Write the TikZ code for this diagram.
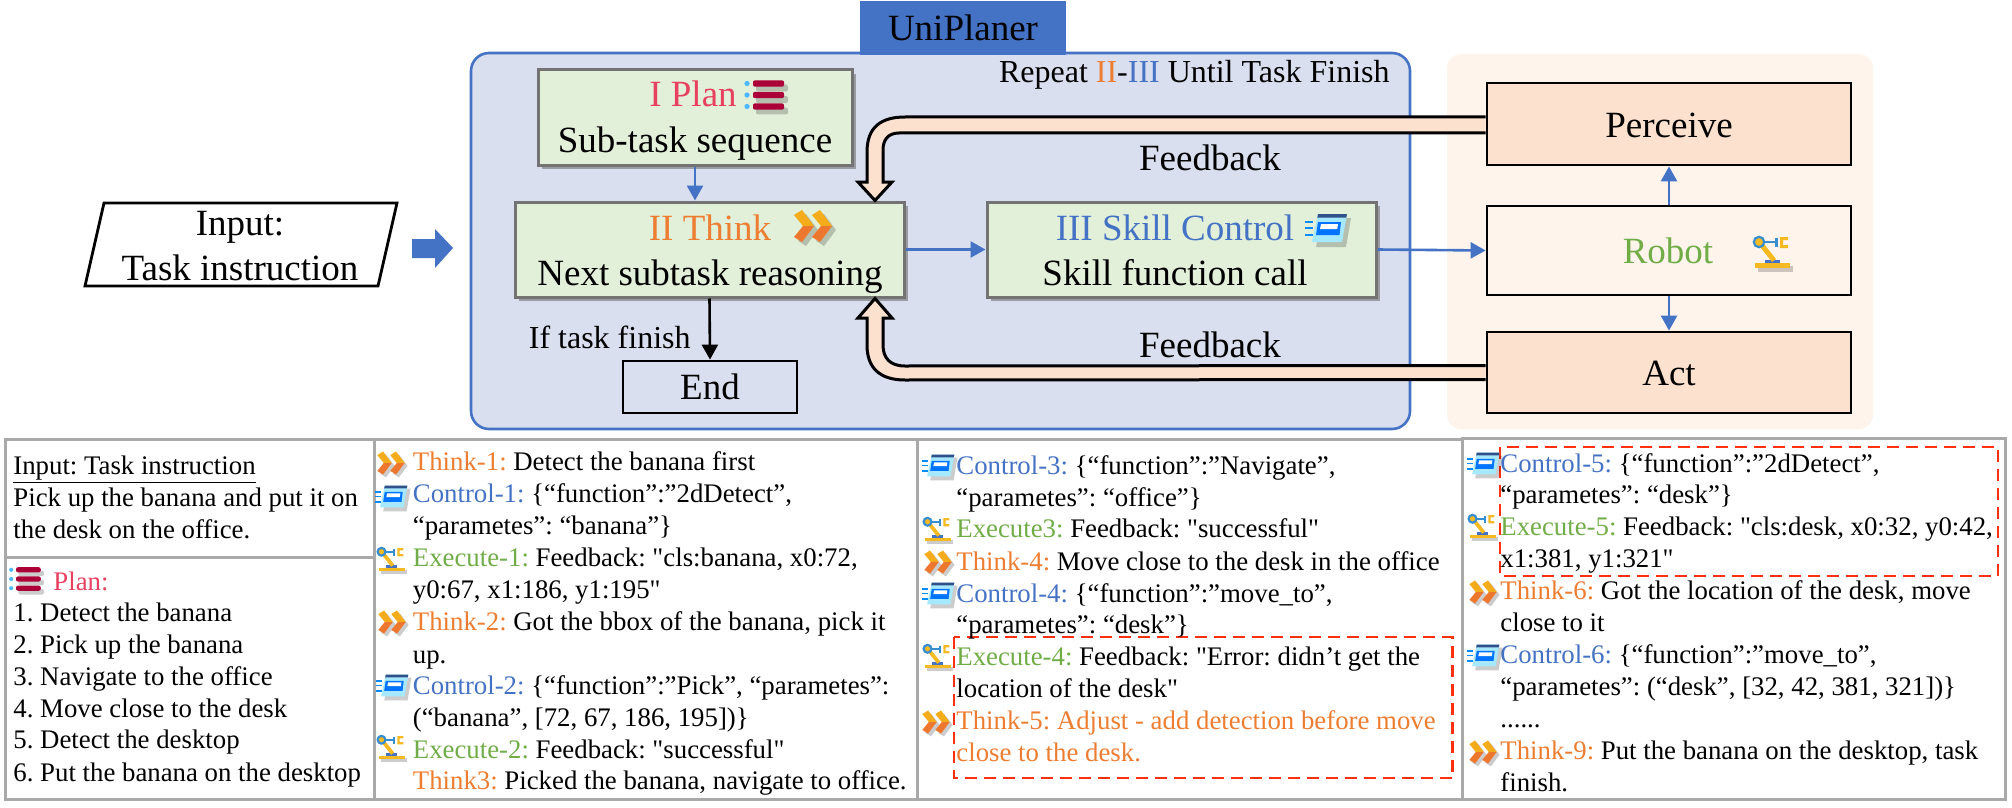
\documentclass[tikz,border=0pt]{standalone}
\usepackage{fontspec}
\setmainfont{Liberation Serif}[Ligatures=TeXOff]
\usetikzlibrary{arrows.meta,shadows}
\definecolor{thinkc}{HTML}{ED7D31}
\definecolor{ctrlc}{HTML}{4472C4}
\definecolor{execc}{HTML}{70AD47}
\definecolor{planc}{HTML}{E8405F}
\definecolor{unifill}{HTML}{D9DFEF}
\definecolor{stepfill}{HTML}{E2EFD9}
\definecolor{peach}{HTML}{FCE1CE}
\definecolor{robotfill}{HTML}{FEF4EC}
\definecolor{tablegray}{HTML}{A9A9A9}
\definecolor{redbox}{HTML}{FF3010}
\definecolor{iconyellow}{HTML}{F5B921}
\tikzset{
	bigtext/.style={font=\fontsize{18.5}{22}\selectfont, anchor=base, inner sep=0pt},
	midtext/.style={font=\fontsize{16}{20}\selectfont, anchor=base, inner sep=0pt},
	listtext/.style={font=\fontsize{13.4}{16}\selectfont, anchor=base west, inner sep=0pt},
	stepbox/.style={draw=black!55, line width=1.5pt, fill=stepfill, inner sep=0pt, drop shadow={shadow xshift=2pt, shadow yshift=-2pt, opacity=.55, fill=black!60}},
	robotbox/.style={draw=black, line width=1.4pt, fill=peach, inner sep=0pt, minimum width=182pt},
	bluearrow/.style={->, ctrlc, line width=1.3pt},
	tube/.style={draw=black, line width=1.5pt, fill=peach},
	tableline/.style={draw=tablegray, line width=1.5pt},
	errorbox/.style={draw=redbox, line width=1.2pt, dash pattern=on 6pt off 3.5pt},
	iconshadow/.style={fill=black, opacity=.2},
	planicon/.pic={
		\foreach \b in {-11.5,0,11.5} {
			\fill[iconshadow, rounded corners=1pt] (-12,\b+1) rectangle (20,\b+8);
			\fill[blue!40!cyan!70!white] (-21,\b) circle (1.3pt);
			\fill[purple!90!black, rounded corners=1pt] (-15,\b-3.2) rectangle (16,\b+3.2);
		}
	},
	thinkicon/.pic={
		\foreach \s in {0,18} {
			\fill[iconshadow] (-15+\s,-7) -- (-7+\s,-12) -- (5+\s,4) -- (-7+\s,20) -- (-15+\s,15) -- (-6+\s,4) -- cycle;
			\fill[thinkc!60!yellow!90!orange] (-19+\s,-11) -- (-11+\s,-16) -- (1+\s,0) -- (-10+\s,0) -- cycle;
			\fill[thinkc!95!red] (-10+\s,0) -- (1+\s,0) -- (-11+\s,16) -- (-19+\s,11) -- cycle;
		}
	},
	skillicon/.pic={
		\fill[iconshadow] (-4,-12) -- (25,-12) -- (20,17) -- (-10,17) -- cycle;
		\fill[blue!25!cyan!35!white] (-8,-16) -- (21,-16) -- (16,12) -- (-14,12) -- cycle;
		\fill[ctrlc!70!black] (-8,-16) -- (21,-16) -- (20.3,-12.5) -- (-8.7,-12.5) -- cycle;
		\fill[blue!55!cyan] (-8,-8) -- (15,-8) -- (13.5,5) -- (-10,5) -- cycle;
		\fill[white] (-5,-6) -- (12,-6) -- (11.3,-1) -- (-6,-1) -- cycle;
		\foreach \b in {-8,-2,5} {\fill[blue!45!cyan] (-21,\b-1.2) rectangle (-13,\b+1.2);}
	},
	roboticon/.pic={
		\fill[iconshadow] (-15,13) rectangle (20,19);
		\fill[iconyellow] (-18,10) rectangle (17,15);
		\fill[ctrlc] (-8,7.3) rectangle (7,10);
		\fill[iconyellow] (-13,-6) -- (-9,-9) -- (3,6) -- (-1,9) -- cycle;
		\draw[ctrlc!80!cyan, line width=.9pt] (-14,-11) -- (3,-11);
		\draw[ctrlc!80!cyan, line width=1.1pt, fill=iconyellow] (-14,-11) circle (2.6pt);
		\fill[ctrlc!80!cyan] (1.5,-15) rectangle (4.5,-6);
		\fill[iconyellow] (7,-16) rectangle (15,-13) (7,-8) rectangle (15,-5) (7,-16) rectangle (10,-5);
	}
}
\begin{document}
\begin{tikzpicture}[x=0.5pt, y=-0.5pt, >={Triangle[length=7.5pt, width=8pt]}]
	\frenchspacing
	\useasboundingbox (0,0) rectangle (2012,808);

	\path[draw=black, line width=1.4pt, fill=white] (104,203) -- (397,203) -- (378,286) -- (85,286) -- cycle;
	\node[bigtext] (inputa) at (240,235) {Input:};
	\node[bigtext] (inputb) at (240,280) {Task instruction};
	\fill[ctrlc] (412,239) -- (435,239) -- (435,229) -- (453,248) -- (435,268) -- (435,258) -- (412,258) -- cycle;

	\fill[robotfill, rounded corners=7pt] (1447,54) rectangle (1873,429);
	\draw[ctrlc, fill=unifill, line width=1.3pt, rounded corners=9pt] (471,53) rectangle (1410,429);
	\fill[ctrlc] (860,1) rectangle (1066,55);
	\node[bigtext] (uni) at (963,41) {UniPlaner};
	\node[midtext, anchor=base east] (repeat) at (1390,83) {Repeat \textcolor{thinkc}{II}-\textcolor{ctrlc}{III} Until Task Finish};

	\node[stepbox, minimum width=157pt, minimum height=47.5pt] (plan) at (695,117.5) {};
	\node[stepbox, minimum width=194.5pt, minimum height=47.5pt] (think) at (709.5,249.5) {};
	\node[stepbox, minimum width=194.5pt, minimum height=47.5pt] (skill) at (1181.5,249.5) {};
	\node[draw=black, line width=1.4pt, inner sep=0pt, minimum width=87pt, minimum height=26pt] (end) at (710,387) {};
	\node[bigtext] (endt) at (710,399) {End};

	\node[bigtext, planc] (plana) at (693,107) {I Plan};
	\node[bigtext] (planb) at (695,152) {Sub-task sequence};
	\node[bigtext, thinkc] (thinka) at (710,240) {II Think};
	\node[bigtext] (thinkb) at (710,285) {Next subtask reasoning};
	\node[bigtext, ctrlc] (skilla) at (1175,240) {III Skill Control};
	\node[bigtext] (skillb) at (1175,285) {Skill function call};
	\pic at (768,95) {planicon};
	\pic at (813,226) {thinkicon};
	\pic at (1326,230) {skillicon};

	\node[midtext, anchor=base east] (finish) at (691,348) {If task finish};
	\node[bigtext] (fba) at (1210,170) {Feedback};
	\node[bigtext] (fbb) at (1210,357) {Feedback};

	\node[robotbox, minimum height=41pt] (perceive) at (1669,124) {};
	\node[robotbox, fill=robotfill, minimum height=44.5pt] (robot) at (1669,250.5) {};
	\node[robotbox, minimum height=40.5pt] (act) at (1669,372.5) {};
	\node[bigtext] (perceivet) at (1669,137) {Perceive};
	\node[bigtext, execc] (robott) at (1668,263) {Robot};
	\node[bigtext] (actt) at (1669,385) {Act};
	\pic at (1773,253) {roboticon};

	\draw[bluearrow] (plan.south) -- (think.north -| plan.south);
	\draw[bluearrow] (think.east) -- (skill.west);
	\draw[->, black, line width=1.3pt] (think.south) -- (end.north);
	\draw[bluearrow] (skill.east) -- (robot.west);
	\draw[bluearrow] (robot.north) -- (perceive.south);
	\draw[bluearrow] (robot.south) -- (act.north);

	\filldraw[tube] ([yshift=3.5pt]perceive.west) -- (905,117) .. controls (880,117) and (867,128) .. (867,152) -- (867,182) -- (858,182) -- ([xshift=82.75pt]think.north) -- (892,182) -- (883,182) -- (883,150) .. controls (883,140) and (888,133) .. (899,133) -- ([yshift=-4.5pt]perceive.west);
	\filldraw[tube] ([yshift=3.5pt]act.west) -- (905,366) .. controls (890,366) and (883,358) .. (883,345) -- (883,318) -- (892,318) -- ([xshift=82.75pt]think.south) -- (858,318) -- (867,318) -- (867,345) .. controls (867,368) and (880,380) .. (905,380) -- ([yshift=-3.5pt]act.west);

	\draw[tableline] (5,439) rectangle (374,799);
	\draw[tableline] (5,557) -- (374,557);
	\draw[tableline] (374,439) rectangle (917,799);
	\draw[tableline] (917,439) rectangle (1462,799);
	\draw[tableline] (1462,438) rectangle (2005,799);
	\draw[errorbox] (954,637) rectangle (1452.5,778);
	\draw[errorbox] (1500,447) rectangle (1998,576);

	\foreach \y/\txt [count=\i] in {474/{\underline{Input: Task instruction}}, 506/{Pick up the banana and put it on}, 538/{the desk on the office.}, 621/{1. Detect the banana}, 653/{2. Pick up the banana}, 685/{3. Navigate to the office}, 717/{4. Move close to the desk}, 748/{5. Detect the desktop}, 781/{6. Put the banana on the desktop}} {
		\node[listtext] (left\i) at (13,\y) {\txt};
	}
	\node[listtext, planc] (plantitle) at (53,590) {Plan:};

	\foreach \y/\txt [count=\i] in {470/{\textcolor{thinkc}{Think-1:} Detect the banana first}, 502/{\textcolor{ctrlc}{Control-1:} \{“function”:”2dDetect”,}, 534/{“parametes”: “banana”\}}, 566/{\textcolor{execc}{Execute-1:} Feedback: "cls:banana, x0:72,}, 598/{y0:67, x1:186, y1:195"}, 630/{\textcolor{thinkc}{Think-2:} Got the bbox of the banana, pick it}, 663/{up.}, 694/{\textcolor{ctrlc}{Control-2:} \{“function”:”Pick”, “parametes”:}, 726/{(“banana”, [72, 67, 186, 195])\}}, 758/{\textcolor{execc}{Execute-2:} Feedback: "successful"}, 789/{\textcolor{thinkc}{Think3:} Picked the banana, navigate to office.}} {
		\node[listtext] (colb\i) at (412.5,\y) {\txt};
	}

	\foreach \y/\txt [count=\i] in {474/{\textcolor{ctrlc}{Control-3:} \{“function”:”Navigate”,}, 506/{“parametes”: “office”\}}, 537/{\textcolor{execc}{Execute3:} Feedback: "successful"}, 570/{\textcolor{thinkc}{Think-4:} Move close to the desk in the office}, 602/{\textcolor{ctrlc}{Control-4:} \{“function”:”move\_to”,}, 633/{“parametes”: “desk”\}}, 665/{\textcolor{execc}{Execute-4:} Feedback: "Error: didn’t get the}, 697/{location of the desk"}, 729/{\textcolor{thinkc}{Think-5: Adjust - add detection before move}}, 761/{\textcolor{thinkc}{close to the desk.}}} {
		\node[listtext] (colc\i) at (956,\y) {\txt};
	}

	\foreach \y/\txt [count=\i] in {472/{\textcolor{ctrlc}{Control-5:} \{“function”:”2dDetect”,}, 503/{“parametes”: “desk”\}}, 535/{\textcolor{execc}{Execute-5:} Feedback: "cls:desk, x0:32, y0:42,}, 567/{x1:381, y1:321"}, 599/{\textcolor{thinkc}{Think-6:} Got the location of the desk, move}, 631/{close to it}, 663/{\textcolor{ctrlc}{Control-6:} \{“function”:”move\_to”,}, 695/{“parametes”: (“desk”, [32, 42, 381, 321])\}}, 727/{......}, 759/{\textcolor{thinkc}{Think-9:} Put the banana on the desktop, task}, 791/{finish.}} {
		\node[listtext] (cold\i) at (1500,\y) {\txt};
	}

	\pic[scale=.8] at (28,579) {planicon};
	\foreach \x/\y in {391/463, 392/622, 938/562, 936/722, 1483/592, 1483/752} {\pic[scale=.72] at (\x,\y) {thinkicon};}
	\foreach \x/\y in {391/498, 392/687, 938/467, 938/595, 1483/465, 1483/657} {\pic[scale=.78] at (\x,\y) {skillicon};}
	\foreach \x/\y in {392/560, 392/748, 938/530, 938/657, 1483/527} {\pic[scale=.75] at (\x,\y) {roboticon};}
\end{tikzpicture}
\end{document}
